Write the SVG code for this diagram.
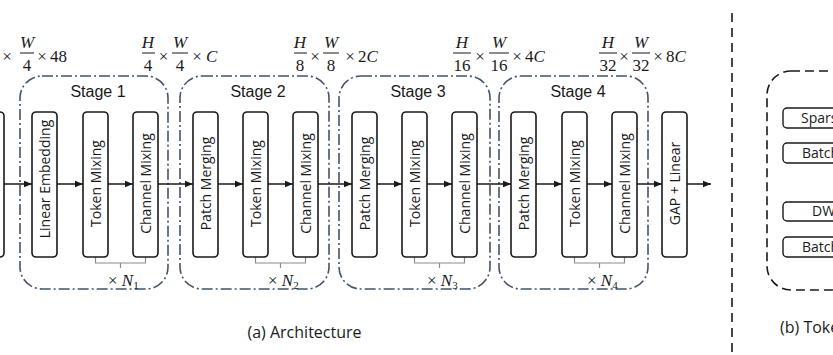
<svg xmlns="http://www.w3.org/2000/svg" width="833" height="355" viewBox="0 0 833 355">
<defs>
<marker id="ah" markerWidth="9" markerHeight="8" refX="8" refY="4" orient="auto" markerUnits="userSpaceOnUse">
<path d="M0,0.8 L8,4 L0,7.2 Z" fill="#1a1a1a"/>
</marker>
<style>
.blk{fill:#fff;stroke:#1a1a1a;stroke-width:1.6}
.lbl{font-family:"Open Sans","Liberation Sans",sans-serif;font-size:14px;fill:#1a1a1a;text-anchor:middle}
.stage{fill:none;stroke:#44546a;stroke-width:1.6;stroke-dasharray:11 3 2 3}
.stg{font-family:"Liberation Sans",Arial,sans-serif;font-size:16px;fill:#1a1a1a;text-anchor:middle}
.math{font-family:"Liberation Serif","DejaVu Serif",serif;font-size:17px;fill:#1a1a1a}
.mc{text-anchor:middle}
.it{font-style:italic}
.bar{stroke:#1a1a1a;stroke-width:1}
.arr{stroke:#1a1a1a;stroke-width:1.5;fill:none;marker-end:url(#ah)}
.brk{stroke:#8c8c8c;stroke-width:1.2;fill:none}
.cap{font-family:"Open Sans","Liberation Sans",sans-serif;font-size:16px;fill:#1a1a1a}
.sb{fill:#fff;stroke:#1a1a1a;stroke-width:1.4}
.st{font-family:"Open Sans","Liberation Sans",sans-serif;font-size:14px;fill:#1a1a1a}
</style>
</defs>

<!-- dimension labels -->
<g id="dims">
  <text class="math mc" x="7" y="62">×</text>
  <text class="math it mc" x="27" y="48">W</text>
  <line class="bar" x1="20" y1="53" x2="34" y2="53"/>
  <text class="math mc" x="27" y="71">4</text>
  <text class="math mc" x="42" y="62">×</text>
  <text class="math" x="50" y="62">48</text>

  <text class="math it mc" x="148" y="48">H</text>
  <line class="bar" x1="142" y1="53" x2="155" y2="53"/>
  <text class="math mc" x="148" y="71">4</text>
  <text class="math mc" x="163.5" y="62">×</text>
  <text class="math it mc" x="180" y="48">W</text>
  <line class="bar" x1="172" y1="53" x2="188" y2="53"/>
  <text class="math mc" x="180" y="71">4</text>
  <text class="math mc" x="197" y="62">×</text>
  <text class="math it" x="206" y="62">C</text>

  <text class="math it mc" x="300" y="48">H</text>
  <line class="bar" x1="294" y1="53" x2="307" y2="53"/>
  <text class="math mc" x="300" y="71">8</text>
  <text class="math mc" x="315" y="62">×</text>
  <text class="math it mc" x="331" y="48">W</text>
  <line class="bar" x1="323" y1="53" x2="339" y2="53"/>
  <text class="math mc" x="331" y="71">8</text>
  <text class="math mc" x="350" y="62">×</text>
  <text class="math" x="358" y="62">2<tspan class="it">C</tspan></text>

  <text class="math it mc" x="462" y="48">H</text>
  <line class="bar" x1="453" y1="53" x2="471" y2="53"/>
  <text class="math mc" x="462" y="71">16</text>
  <text class="math mc" x="480" y="62">×</text>
  <text class="math it mc" x="499" y="48">W</text>
  <line class="bar" x1="489" y1="53" x2="509" y2="53"/>
  <text class="math mc" x="499" y="71">16</text>
  <text class="math mc" x="517" y="62">×</text>
  <text class="math" x="525" y="62">4<tspan class="it">C</tspan></text>

  <text class="math it mc" x="608" y="48">H</text>
  <line class="bar" x1="599" y1="53" x2="617" y2="53"/>
  <text class="math mc" x="608" y="71">32</text>
  <text class="math mc" x="624" y="62">×</text>
  <text class="math it mc" x="641" y="48">W</text>
  <line class="bar" x1="632" y1="53" x2="650" y2="53"/>
  <text class="math mc" x="641" y="71">32</text>
  <text class="math mc" x="658" y="62">×</text>
  <text class="math" x="666" y="62">8<tspan class="it">C</tspan></text>
</g>

<!-- stages -->
<g id="stage1">
  <rect class="stage" x="20" y="76" width="148" height="213" rx="22"/>
  <text class="stg" x="98" y="97">Stage 1</text>
</g>
<g id="stage2">
  <rect class="stage" x="180" y="76" width="149" height="213" rx="22"/>
  <text class="stg" x="258" y="97">Stage 2</text>
</g>
<g id="stage3">
  <rect class="stage" x="339" y="76" width="151" height="213" rx="22"/>
  <text class="stg" x="418" y="97">Stage 3</text>
</g>
<g id="stage4">
  <rect class="stage" x="499" y="76" width="149" height="213" rx="22"/>
  <text class="stg" x="578" y="97">Stage 4</text>
</g>

<!-- connectors -->
<g id="connectors">
  <line class="arr" x1="4" y1="184" x2="32" y2="184"/>
  <line class="arr" x1="57" y1="184" x2="83" y2="184"/>
  <line class="arr" x1="108" y1="184" x2="133" y2="184"/>
  <line class="arr" x1="158" y1="184" x2="193" y2="184"/>
  <line class="arr" x1="218" y1="184" x2="243" y2="184"/>
  <line class="arr" x1="268" y1="184" x2="293" y2="184"/>
  <line class="arr" x1="318" y1="184" x2="352" y2="184"/>
  <line class="arr" x1="377" y1="184" x2="402" y2="184"/>
  <line class="arr" x1="427" y1="184" x2="452" y2="184"/>
  <line class="arr" x1="477" y1="184" x2="511" y2="184"/>
  <line class="arr" x1="536" y1="184" x2="562" y2="184"/>
  <line class="arr" x1="587" y1="184" x2="612" y2="184"/>
  <line class="arr" x1="637" y1="184" x2="662" y2="184"/>
  <line class="arr" x1="687" y1="184" x2="711" y2="184"/>
  <path class="brk" d="M95.5,257 V263 H145.5 V257 M120.5,263 V268"/>
  <path class="brk" d="M255.5,257 V263 H305.5 V257 M280.5,263 V268"/>
  <path class="brk" d="M414.5,257 V263 H464.5 V257 M439.5,263 V268"/>
  <path class="brk" d="M574.5,257 V263 H624.5 V257 M599.5,263 V268"/>
</g>

<!-- repeat labels -->
<g id="repeats">
  <text class="math" x="108" y="286">× <tspan class="it">N</tspan><tspan font-size="11" dy="3">1</tspan></text>
  <text class="math" x="268" y="286">× <tspan class="it">N</tspan><tspan font-size="11" dy="3">2</tspan></text>
  <text class="math" x="427" y="286">× <tspan class="it">N</tspan><tspan font-size="11" dy="3">3</tspan></text>
  <text class="math" x="587" y="286">× <tspan class="it">N</tspan><tspan font-size="11" dy="3">4</tspan></text>
</g>

<!-- blocks -->
<g id="input"><rect class="blk" x="-20" y="112" width="24" height="145" rx="4"/></g>
<g id="linear-embedding">
  <rect class="blk" x="32" y="112" width="25" height="145" rx="4"/>
  <text class="lbl" transform="translate(44.5,179) rotate(-90)" y="5" font-size="13.5">Linear Embedding</text>
</g>
<g id="token-mixing-1">
  <rect class="blk" x="83" y="112" width="25" height="145" rx="4"/>
  <text class="lbl" transform="translate(95.5,183.5) rotate(-90)" y="5">Token Mixing</text>
</g>
<g id="channel-mixing-1">
  <rect class="blk" x="133" y="112" width="25" height="145" rx="4"/>
  <text class="lbl" transform="translate(145.5,183.5) rotate(-90)" y="5">Channel Mixing</text>
</g>
<g id="patch-merging-2">
  <rect class="blk" x="193" y="112" width="25" height="145" rx="4"/>
  <text class="lbl" transform="translate(205.5,183.5) rotate(-90)" y="5">Patch Merging</text>
</g>
<g id="token-mixing-2">
  <rect class="blk" x="243" y="112" width="25" height="145" rx="4"/>
  <text class="lbl" transform="translate(255.5,183.5) rotate(-90)" y="5">Token Mixing</text>
</g>
<g id="channel-mixing-2">
  <rect class="blk" x="293" y="112" width="25" height="145" rx="4"/>
  <text class="lbl" transform="translate(305.5,183.5) rotate(-90)" y="5">Channel Mixing</text>
</g>
<g id="patch-merging-3">
  <rect class="blk" x="352" y="112" width="25" height="145" rx="4"/>
  <text class="lbl" transform="translate(364.5,183.5) rotate(-90)" y="5">Patch Merging</text>
</g>
<g id="token-mixing-3">
  <rect class="blk" x="402" y="112" width="25" height="145" rx="4"/>
  <text class="lbl" transform="translate(414.5,183.5) rotate(-90)" y="5">Token Mixing</text>
</g>
<g id="channel-mixing-3">
  <rect class="blk" x="452" y="112" width="25" height="145" rx="4"/>
  <text class="lbl" transform="translate(464.5,183.5) rotate(-90)" y="5">Channel Mixing</text>
</g>
<g id="patch-merging-4">
  <rect class="blk" x="511" y="112" width="25" height="145" rx="4"/>
  <text class="lbl" transform="translate(523.5,183.5) rotate(-90)" y="5">Patch Merging</text>
</g>
<g id="token-mixing-4">
  <rect class="blk" x="562" y="112" width="25" height="145" rx="4"/>
  <text class="lbl" transform="translate(574.5,183.5) rotate(-90)" y="5">Token Mixing</text>
</g>
<g id="channel-mixing-4">
  <rect class="blk" x="612" y="112" width="25" height="145" rx="4"/>
  <text class="lbl" transform="translate(624.5,183.5) rotate(-90)" y="5">Channel Mixing</text>
</g>
<g id="gap-linear">
  <rect class="blk" x="662" y="112" width="25" height="145" rx="4"/>
  <text class="lbl" transform="translate(674.5,183.5) rotate(-90)" y="5">GAP + Linear</text>
</g>

<!-- divider -->
<line x1="732" y1="13" x2="732" y2="355" stroke="#1a1a1a" stroke-width="1.6" stroke-dasharray="9 6"/>

<!-- panel b -->
<g id="token-mixing-module">
  <rect x="767" y="71" width="100" height="219" rx="24" fill="none" stroke="#1a1a1a" stroke-width="1.6" stroke-dasharray="9 5"/>
</g>
<g id="sparse"><rect class="sb" x="783" y="108" width="60" height="20" rx="4"/><text class="st" x="801" y="123">Spars</text></g>
<g id="batch1"><rect class="sb" x="783" y="143" width="60" height="20" rx="4"/><text class="st" x="802" y="158">Batch</text></g>
<g id="dw"><rect class="sb" x="783" y="202" width="60" height="19" rx="4"/><text class="st" x="812" y="216">DW</text></g>
<g id="batch2"><rect class="sb" x="783" y="237" width="60" height="20" rx="4"/><text class="st" x="802" y="252">Batch</text></g>

<!-- captions -->
<text class="cap" x="304.5" y="338" text-anchor="middle">(a) Architecture</text>
<text class="cap" x="780" y="333">(b) Toke</text>
</svg>
